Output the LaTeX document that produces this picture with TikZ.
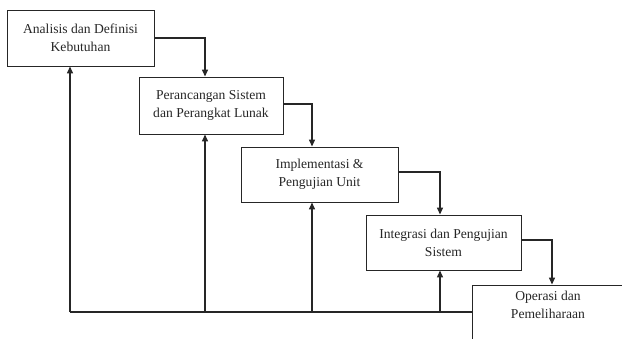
\documentclass[tikz,border=0pt]{standalone}
\usepackage{fontspec}
\setmainfont{Liberation Serif}
\usepackage{tikz}
\usetikzlibrary{positioning,arrows.meta,calc}

\begin{document}
\begin{tikzpicture}[x=1pt,y=-1pt,
  phase/.style={draw=black!85, line width=0.9pt, align=center, inner sep=0pt,
    font=\fontsize{13.6}{18}\selectfont, text=black!85},
  flow/.style={draw=black!85, line width=1.3pt, -{Triangle[length=7pt,width=6pt]}}]
\clip (0,0) rectangle (622,338);
\useasboundingbox (0,0) rectangle (622,338);
% Phases
\node[phase, minimum width=147, minimum height=56] (b1) at (80.5,38) {Analisis dan Definisi\\Kebutuhan};
\node[phase, minimum width=144, minimum height=57] (b2) at (211,105.5) {Perancangan Sistem\\dan Perangkat Lunak};
\node[phase, minimum width=157, minimum height=55] (b3) at (319.5,174.5) {Implementasi \&\\Pengujian Unit};
\node[phase, minimum width=155, minimum height=55] (b4) at (443.5,242.5) {Integrasi dan Pengujian\\Sistem};
\node[phase, minimum width=152, minimum height=60] (b5) at (548,315) {};
\node[font=\fontsize{13.6}{18}\selectfont, text=black!85, align=center] (b5text) at (548,305) {Operasi dan\\Pemeliharaan};
% Forward steps
\draw[flow] (b1.east) -| ([xshift=-6]b2.north);
\draw[flow] ([yshift=1.5]b2.east) -| ([xshift=-7.5]b3.north);
\draw[flow] ([yshift=2.5]b3.east) -| ([xshift=-3.5]b4.north);
\draw[flow] ([yshift=2.5]b4.east) -| ([xshift=4]b5.north);
% Feedback to earlier phases
\coordinate (f1) at (70,312);
\coordinate (f2) at (205,312);
\coordinate (f3) at (312,312);
\coordinate (f4) at (440,312);
\draw[draw=black!85, line width=1.3pt] (b5.west |- f1) -- (f1);
\foreach \i/\b in {1/b1,2/b2,3/b3,4/b4}
  \draw[flow] (f\i) -- (f\i |- \b.south);
\end{tikzpicture}
\end{document}
